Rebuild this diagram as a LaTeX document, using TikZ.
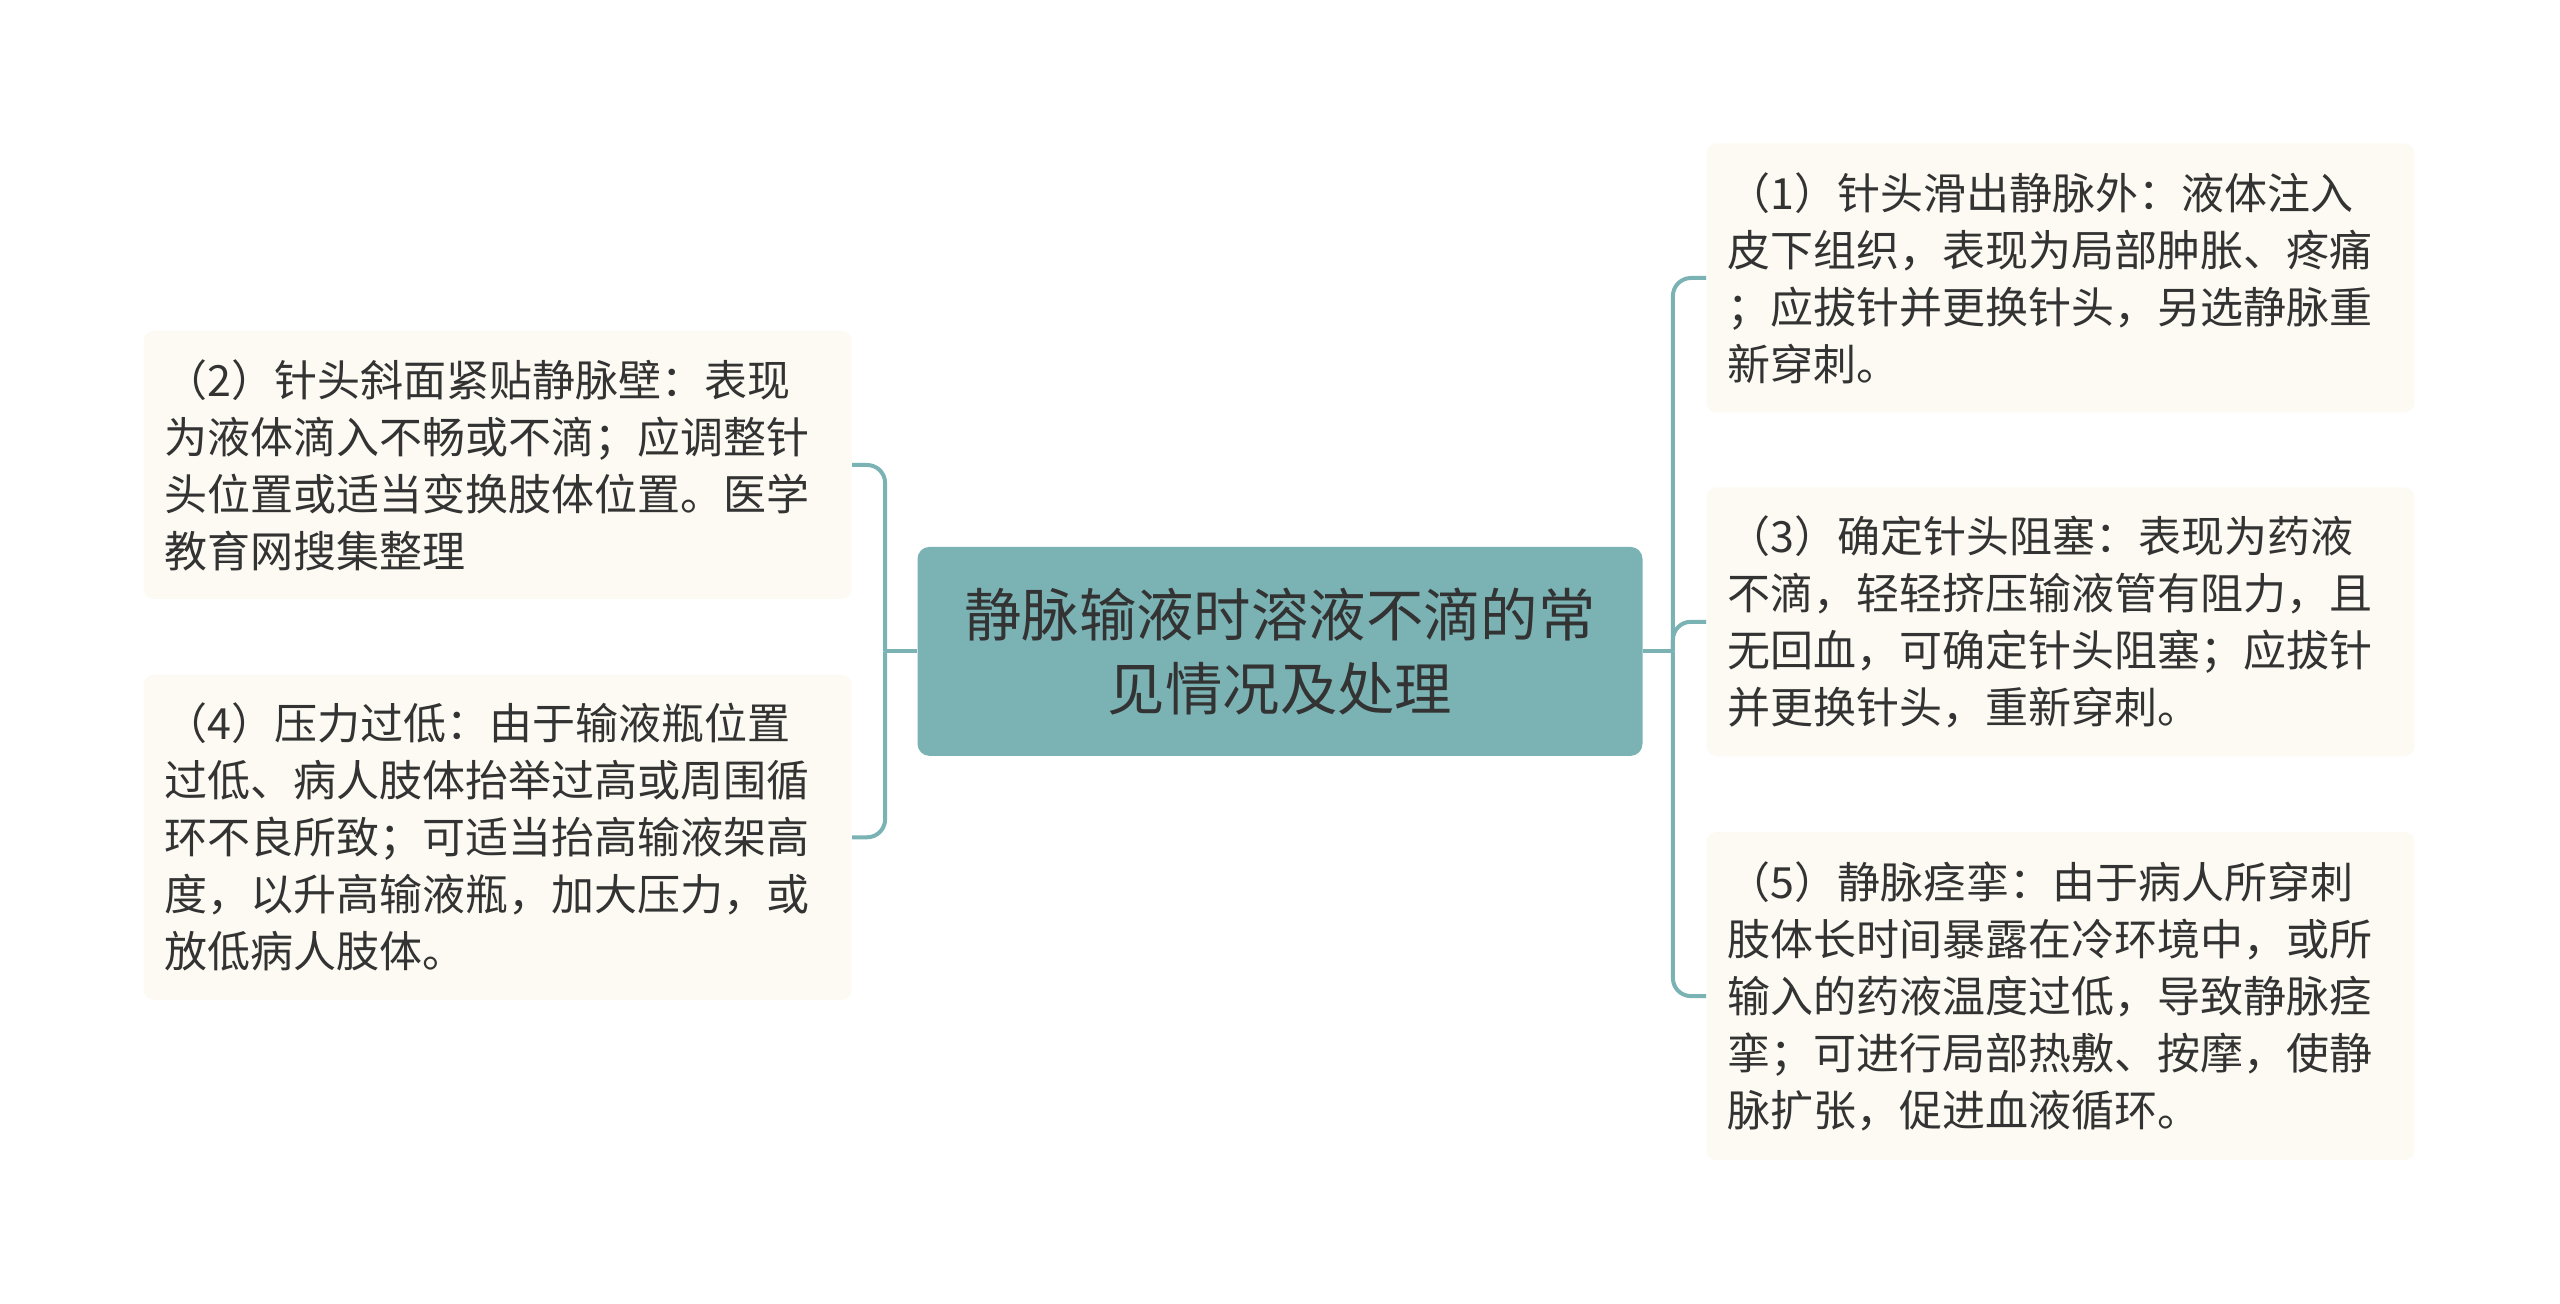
\documentclass[tikz,border=0pt]{standalone}
\usepackage{fontspec}
\setmainfont{Noto Sans CJK SC}
\usetikzlibrary{positioning}
\definecolor{tealfill}{HTML}{7BB3B5}
\definecolor{creamfill}{HTML}{FCFAF2}
\definecolor{inkgray}{HTML}{333333}

\begin{document}
\begin{tikzpicture}[x=1pt, y=1pt,
    leaf/.style={draw=none,
      fill=creamfill,
      rounded corners=5pt,
      text=inkgray,
      text width=333pt,
      align=left,
      inner xsep=10.5pt,
      inner ysep=0pt,
      minimum width=354pt,
      font=\fontsize{21.5pt}{28.5pt}\selectfont},
    link/.style={draw=tealfill,
      line width=2pt,
      rounded corners=9pt}]
      \useasboundingbox (0,0) rectangle (1280,-652);
      % Add the topic
      \node[fill=tealfill,
        rounded corners=6pt,
        text=inkgray,
        align=center,
        minimum width=362.5pt,
        minimum height=104.5pt,
        font=\fontsize{28.7pt}{36.7pt}\selectfont] (root) at (640,-325.7)
        {静脉输液时溶液不滴的常\\见情况及处理};
      % Add the left branches
      \node[leaf,
        minimum height=134pt,
        anchor=east] (p2) at (426,-232.5)
        {（2）针头斜面紧贴静脉壁：表现\\为液体滴入不畅或不滴；应调整针\\头位置或适当变换肢体位置。医学\\教育网搜集整理};
      \node[leaf,
        minimum height=162.5pt,
        below=37.5pt of p2] (p4)
        {（4）压力过低：由于输液瓶位置\\过低、病人肢体抬举过高或周围循\\环不良所致；可适当抬高输液架高\\度，以升高输液瓶，加大压力，或\\放低病人肢体。};
      % Add the right branches
      \node[leaf,
        minimum height=134.5pt,
        anchor=west] (p1) at (853,-139)
        {（1）针头滑出静脉外：液体注入\\皮下组织，表现为局部肿胀、疼痛\\；应拔针并更换针头，另选静脉重\\新穿刺。};
      \node[leaf,
        minimum height=134.5pt,
        below=37pt of p1] (p3)
        {（3）确定针头阻塞：表现为药液\\不滴，轻轻挤压输液管有阻力，且\\无回血，可确定针头阻塞；应拔针\\并更换针头，重新穿刺。};
      \node[leaf,
        minimum height=164pt,
        below=37.5pt of p3] (p5)
        {（5）静脉痉挛：由于病人所穿刺\\肢体长时间暴露在冷环境中，或所\\输入的药液温度过低，导致静脉痉\\挛；可进行局部热敷、按摩，使静\\脉扩张，促进血液循环。};
      % Connect the topic with the branches
      \coordinate[left=16pt of root.west] (lj);
      \coordinate[right=15pt of root.east] (rj);
      \draw[link] (root.west) -- (lj);
      \draw[link] (lj) |- (p2.east);
      \draw[link] (lj) |- (p4.east);
      \draw[link] (root.east) -- (rj);
      \draw[link] (rj) |- (p1.west);
      \draw[link] (rj) |- (p3.west);
      \draw[link] (rj) |- (p5.west);
\end{tikzpicture}
\end{document}
